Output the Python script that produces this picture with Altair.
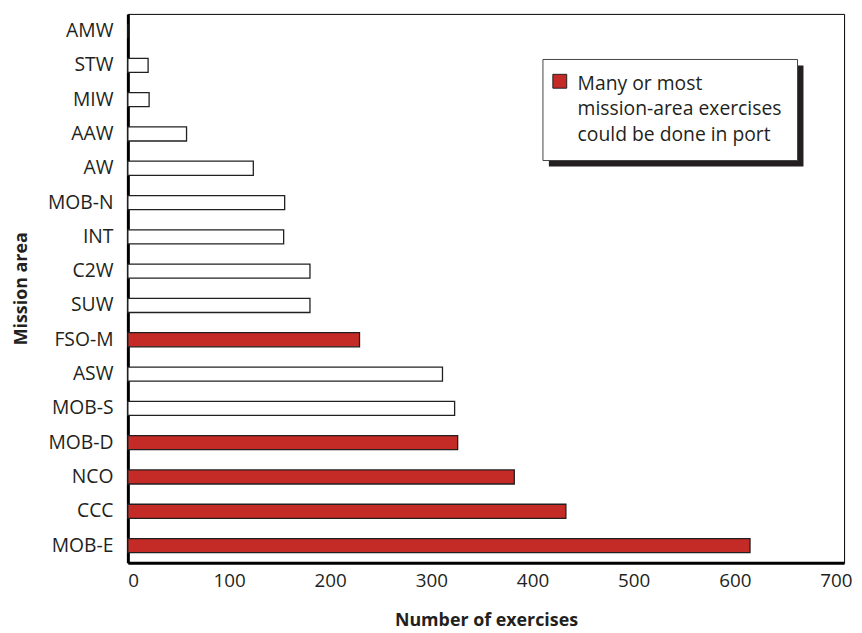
import altair as alt
import pandas as pd

categories = ["AMW", "STW", "MIW", "AAW", "AW", "MOB-N", "INT", "C2W", "SUW",
              "FSO-M", "ASW", "MOB-S", "MOB-D", "NCO", "CCC", "MOB-E"]
exercises = [0, 20, 21, 58, 124, 155, 154, 180, 180, 229, 311, 323, 326, 382, 433, 615]
in_port = [False, False, False, False, False, False, False, False, False,
           True, False, False, True, True, True, True]
x_ticks = [0, 100, 200, 300, 400, 500, 600, 700]
legend_text = ["Many or most", "mission-area exercises", "could be done in port"]

RED = "#C42B26"
INK = "#231F20"
FONT = "Open Sans"

df = pd.DataFrame({"area": categories, "n": exercises, "port": in_port})

bars = alt.Chart(df).mark_bar(stroke=INK, strokeWidth=1.3).encode(
    x=alt.X("n:Q", scale=alt.Scale(domain=[0, 708], nice=False),
            axis=alt.Axis(values=x_ticks, title="Number of exercises", grid=False,
                          ticks=False, domainWidth=3, domainColor="black",
                          labelFontSize=19, labelColor=INK, labelPadding=9,
                          labelFont=FONT, titleFont=FONT, titleFontSize=18,
                          titleFontWeight="bold", titleColor=INK,
                          titleY=58, titleBaseline="middle")),
    y=alt.Y("area:N", sort=categories,
            scale=alt.Scale(paddingInner=0.59, paddingOuter=0.295),
            axis=alt.Axis(title="Mission area", ticks=False, domainWidth=3,
                          domainColor="black", labelFontSize=19.5, labelColor=INK,
                          labelPadding=15, labelFont=FONT, titleFont=FONT,
                          titleFontSize=18, titleFontWeight="bold", titleColor=INK,
                          titleX=-107, titleY=277, titleAlign="center",
                          titleBaseline="middle")),
    fill=alt.Fill("port:N", scale=alt.Scale(domain=[True, False], range=[RED, "white"]),
                  legend=None),
)

one = pd.DataFrame({"k": [0]})
shadow = alt.Chart(one).mark_rect(fill=INK).encode(
    x=alt.value(425), x2=alt.value(682), y=alt.value(52), y2=alt.value(154))
box = alt.Chart(one).mark_rect(fill="white", stroke="#444444", strokeWidth=1).encode(
    x=alt.value(419), x2=alt.value(676), y=alt.value(46), y2=alt.value(148))
swatch = alt.Chart(one).mark_rect(fill=RED, stroke=INK, strokeWidth=1).encode(
    x=alt.value(429), x2=alt.value(443), y=alt.value(61), y2=alt.value(75))
ltext = alt.Chart(one).mark_text(
    align="left", baseline="alphabetic", font=FONT, fontSize=19.5, color=INK,
    lineHeight=25.5, lineBreak="\n").encode(
    x=alt.value(454), y=alt.value(77), text=alt.value("\n".join(legend_text)))

chart = alt.layer(bars, shadow, box, swatch, ltext).properties(
    width=723, height=554,
    autosize=alt.AutoSizeParams(type="none"),
    padding={"left": 121, "top": 3, "right": 10, "bottom": 69},
).configure_view(stroke="black", strokeWidth=1)

chart.save("out.html", embed_options={"renderer": "svg", "actions": False})
